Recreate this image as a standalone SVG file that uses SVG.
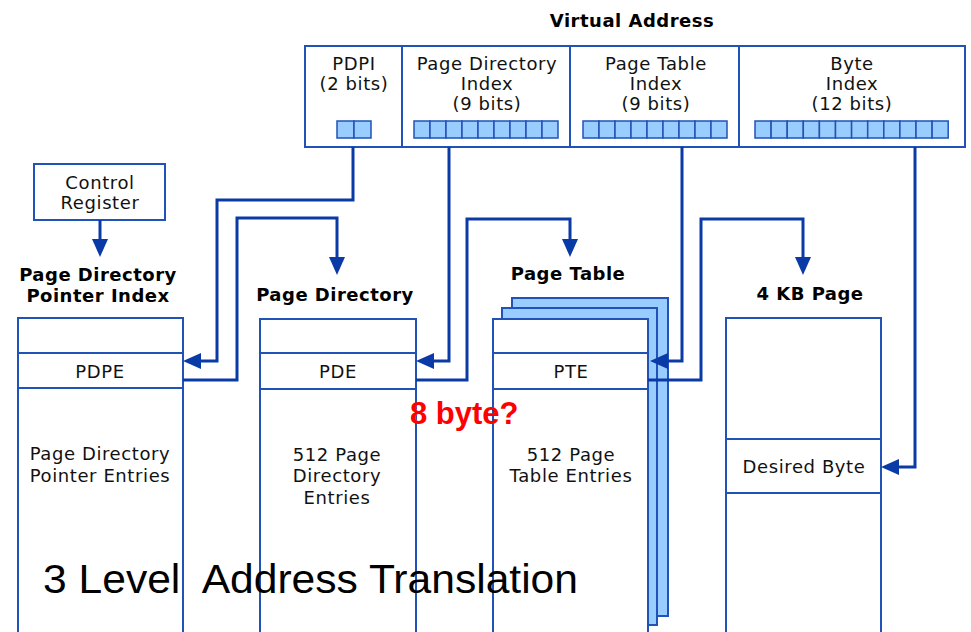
<svg xmlns="http://www.w3.org/2000/svg" width="971" height="632" viewBox="0 0 971 632">
  <style>
    .box { fill: #ffffff; stroke: #2152b8; stroke-width: 2; }
    .sheet { fill: #99ccff; stroke: #2152b8; stroke-width: 2; }
    .bit { fill: #99ccff; stroke: #2152b8; stroke-width: 1.5; }
    .rule { stroke: #2152b8; stroke-width: 2; fill: none; }
    .t { font-family: "DejaVu Sans", Verdana, sans-serif; font-size: 18px; letter-spacing: 0.6px; fill: #111; text-anchor: middle; }
    .h { font-family: "DejaVu Sans", Verdana, sans-serif; font-size: 18px; font-weight: bold; letter-spacing: 0.5px; fill: #000; text-anchor: middle; }
    .wire { fill: none; stroke: #0a3aa6; stroke-width: 3; stroke-linejoin: miter; }
    .note { font-family: "Liberation Sans", Arial, sans-serif; font-size: 31px; font-weight: bold; fill: #ff0000; }
    .title { font-family: "Liberation Sans", Arial, sans-serif; font-size: 40px; fill: #000; white-space: pre; }
  </style>
  <defs>
    <marker id="arrow" markerUnits="userSpaceOnUse" markerWidth="20" markerHeight="18" refX="10" refY="8" orient="auto">
      <path d="M0,0 L18,8 L0,16 Z" fill="#0a3aa6"/>
    </marker>
  </defs>

  <!-- Virtual address -->
  <g id="virtual-address">
    <text class="h" x="632" y="27">Virtual Address</text>
    <rect class="box" x="305" y="46" width="660" height="101"/>
    <line class="rule" x1="402" y1="46" x2="402" y2="147"/>
    <line class="rule" x1="570" y1="46" x2="570" y2="147"/>
    <line class="rule" x1="739" y1="46" x2="739" y2="147"/>
    <text class="t" x="354" y="70">PDPI</text>
    <text class="t" x="354" y="90">(2 bits)</text>
    <text class="t" x="487" y="70">Page Directory</text>
    <text class="t" x="487" y="90">Index</text>
    <text class="t" x="487" y="110">(9 bits)</text>
    <text class="t" x="656" y="70">Page Table</text>
    <text class="t" x="656" y="90">Index</text>
    <text class="t" x="656" y="110">(9 bits)</text>
    <text class="t" x="852" y="70">Byte</text>
    <text class="t" x="852" y="90">Index</text>
    <text class="t" x="852" y="110">(12 bits)</text>
    <!-- bit cells -->
    <g id="pdpi-bits">
      <rect class="bit" x="337" y="121" width="17" height="17"/>
      <rect class="bit" x="354" y="121" width="17" height="17"/>
    </g>
    <g id="pdi-bits">
      <rect class="bit" x="414" y="121" width="16" height="17"/>
      <rect class="bit" x="430" y="121" width="16" height="17"/>
      <rect class="bit" x="446" y="121" width="16" height="17"/>
      <rect class="bit" x="462" y="121" width="16" height="17"/>
      <rect class="bit" x="478" y="121" width="16" height="17"/>
      <rect class="bit" x="494" y="121" width="16" height="17"/>
      <rect class="bit" x="510" y="121" width="16" height="17"/>
      <rect class="bit" x="526" y="121" width="16" height="17"/>
      <rect class="bit" x="542" y="121" width="16" height="17"/>
    </g>
    <g id="pti-bits">
      <rect class="bit" x="583" y="121" width="16" height="17"/>
      <rect class="bit" x="599" y="121" width="16" height="17"/>
      <rect class="bit" x="615" y="121" width="16" height="17"/>
      <rect class="bit" x="631" y="121" width="16" height="17"/>
      <rect class="bit" x="647" y="121" width="16" height="17"/>
      <rect class="bit" x="663" y="121" width="16" height="17"/>
      <rect class="bit" x="679" y="121" width="16" height="17"/>
      <rect class="bit" x="695" y="121" width="16" height="17"/>
      <rect class="bit" x="711" y="121" width="16" height="17"/>
    </g>
    <g id="byte-bits">
      <rect class="bit" x="755" y="121" width="16.1" height="17"/>
      <rect class="bit" x="771.1" y="121" width="16.1" height="17"/>
      <rect class="bit" x="787.2" y="121" width="16.1" height="17"/>
      <rect class="bit" x="803.3" y="121" width="16.1" height="17"/>
      <rect class="bit" x="819.4" y="121" width="16.1" height="17"/>
      <rect class="bit" x="835.5" y="121" width="16.1" height="17"/>
      <rect class="bit" x="851.6" y="121" width="16.1" height="17"/>
      <rect class="bit" x="867.7" y="121" width="16.1" height="17"/>
      <rect class="bit" x="883.8" y="121" width="16.1" height="17"/>
      <rect class="bit" x="899.9" y="121" width="16.1" height="17"/>
      <rect class="bit" x="916" y="121" width="16.1" height="17"/>
      <rect class="bit" x="932.1" y="121" width="16.1" height="17"/>
    </g>
  </g>

  <!-- Control register -->
  <g id="control-register">
    <rect class="box" x="34" y="164" width="131" height="56"/>
    <text class="t" x="100" y="189">Control</text>
    <text class="t" x="100" y="209">Register</text>
  </g>

  <!-- Page directory pointer table -->
  <g id="pdpt">
    <text class="h" x="98" y="281">Page Directory</text>
    <text class="h" x="98" y="302">Pointer Index</text>
    <rect class="box" x="18" y="318" width="165" height="330"/>
    <line class="rule" x1="18" y1="353" x2="183" y2="353"/>
    <line class="rule" x1="18" y1="388" x2="183" y2="388"/>
    <text class="t" x="100" y="378">PDPE</text>
    <text class="t" x="100" y="460">Page Directory</text>
    <text class="t" x="100" y="482">Pointer Entries</text>
  </g>

  <!-- Page directory -->
  <g id="page-directory">
    <text class="h" x="335" y="301">Page Directory</text>
    <rect class="box" x="260" y="319" width="156" height="330"/>
    <line class="rule" x1="260" y1="353" x2="416" y2="353"/>
    <line class="rule" x1="260" y1="389" x2="416" y2="389"/>
    <text class="t" x="338" y="378">PDE</text>
    <text class="t" x="337" y="461">512 Page</text>
    <text class="t" x="337" y="482">Directory</text>
    <text class="t" x="337" y="504">Entries</text>
  </g>

  <!-- Page table (stacked) -->
  <g id="page-table">
    <text class="h" x="568" y="280">Page Table</text>
    <rect class="sheet" x="512" y="298" width="156" height="318"/>
    <rect class="sheet" x="502" y="308" width="155" height="317"/>
    <rect class="box" x="493" y="319" width="155" height="330"/>
    <line class="rule" x1="493" y1="353" x2="648" y2="353"/>
    <line class="rule" x1="493" y1="389" x2="648" y2="389"/>
    <text class="t" x="571" y="378">PTE</text>
    <text class="t" x="571" y="461">512 Page</text>
    <text class="t" x="571" y="482">Table Entries</text>
  </g>

  <!-- 4 KB page -->
  <g id="page-4kb">
    <text class="h" x="810" y="300">4 KB Page</text>
    <rect class="box" x="726" y="318" width="155" height="330"/>
    <line class="rule" x1="726" y1="439" x2="881" y2="439"/>
    <line class="rule" x1="726" y1="493" x2="881" y2="493"/>
    <text class="t" x="804" y="473">Desired Byte</text>
  </g>

  <!-- Connectors -->
  <g id="connectors">
    <path class="wire" d="M100,220 V249" marker-end="url(#arrow)"/>
    <path class="wire" d="M353,147 V200 H217 V361 H191" marker-end="url(#arrow)"/>
    <path class="wire" d="M183,380 H237 V218 H337 V267" marker-end="url(#arrow)"/>
    <path class="wire" d="M449,147 V361 H424" marker-end="url(#arrow)"/>
    <path class="wire" d="M416,380 H467 V219 H570 V249" marker-end="url(#arrow)"/>
    <path class="wire" d="M682,147 V361 H658" marker-end="url(#arrow)"/>
    <path class="wire" d="M648,380 H701 V219 H803 V267" marker-end="url(#arrow)"/>
    <path class="wire" d="M915,147 V467 H889" marker-end="url(#arrow)"/>
  </g>

  <!-- Annotations -->
  <text class="note" x="410" y="424">8 byte?</text>
  <text class="title" x="43" y="593" textLength="535" lengthAdjust="spacingAndGlyphs">3 Level  Address Translation</text>
</svg>
